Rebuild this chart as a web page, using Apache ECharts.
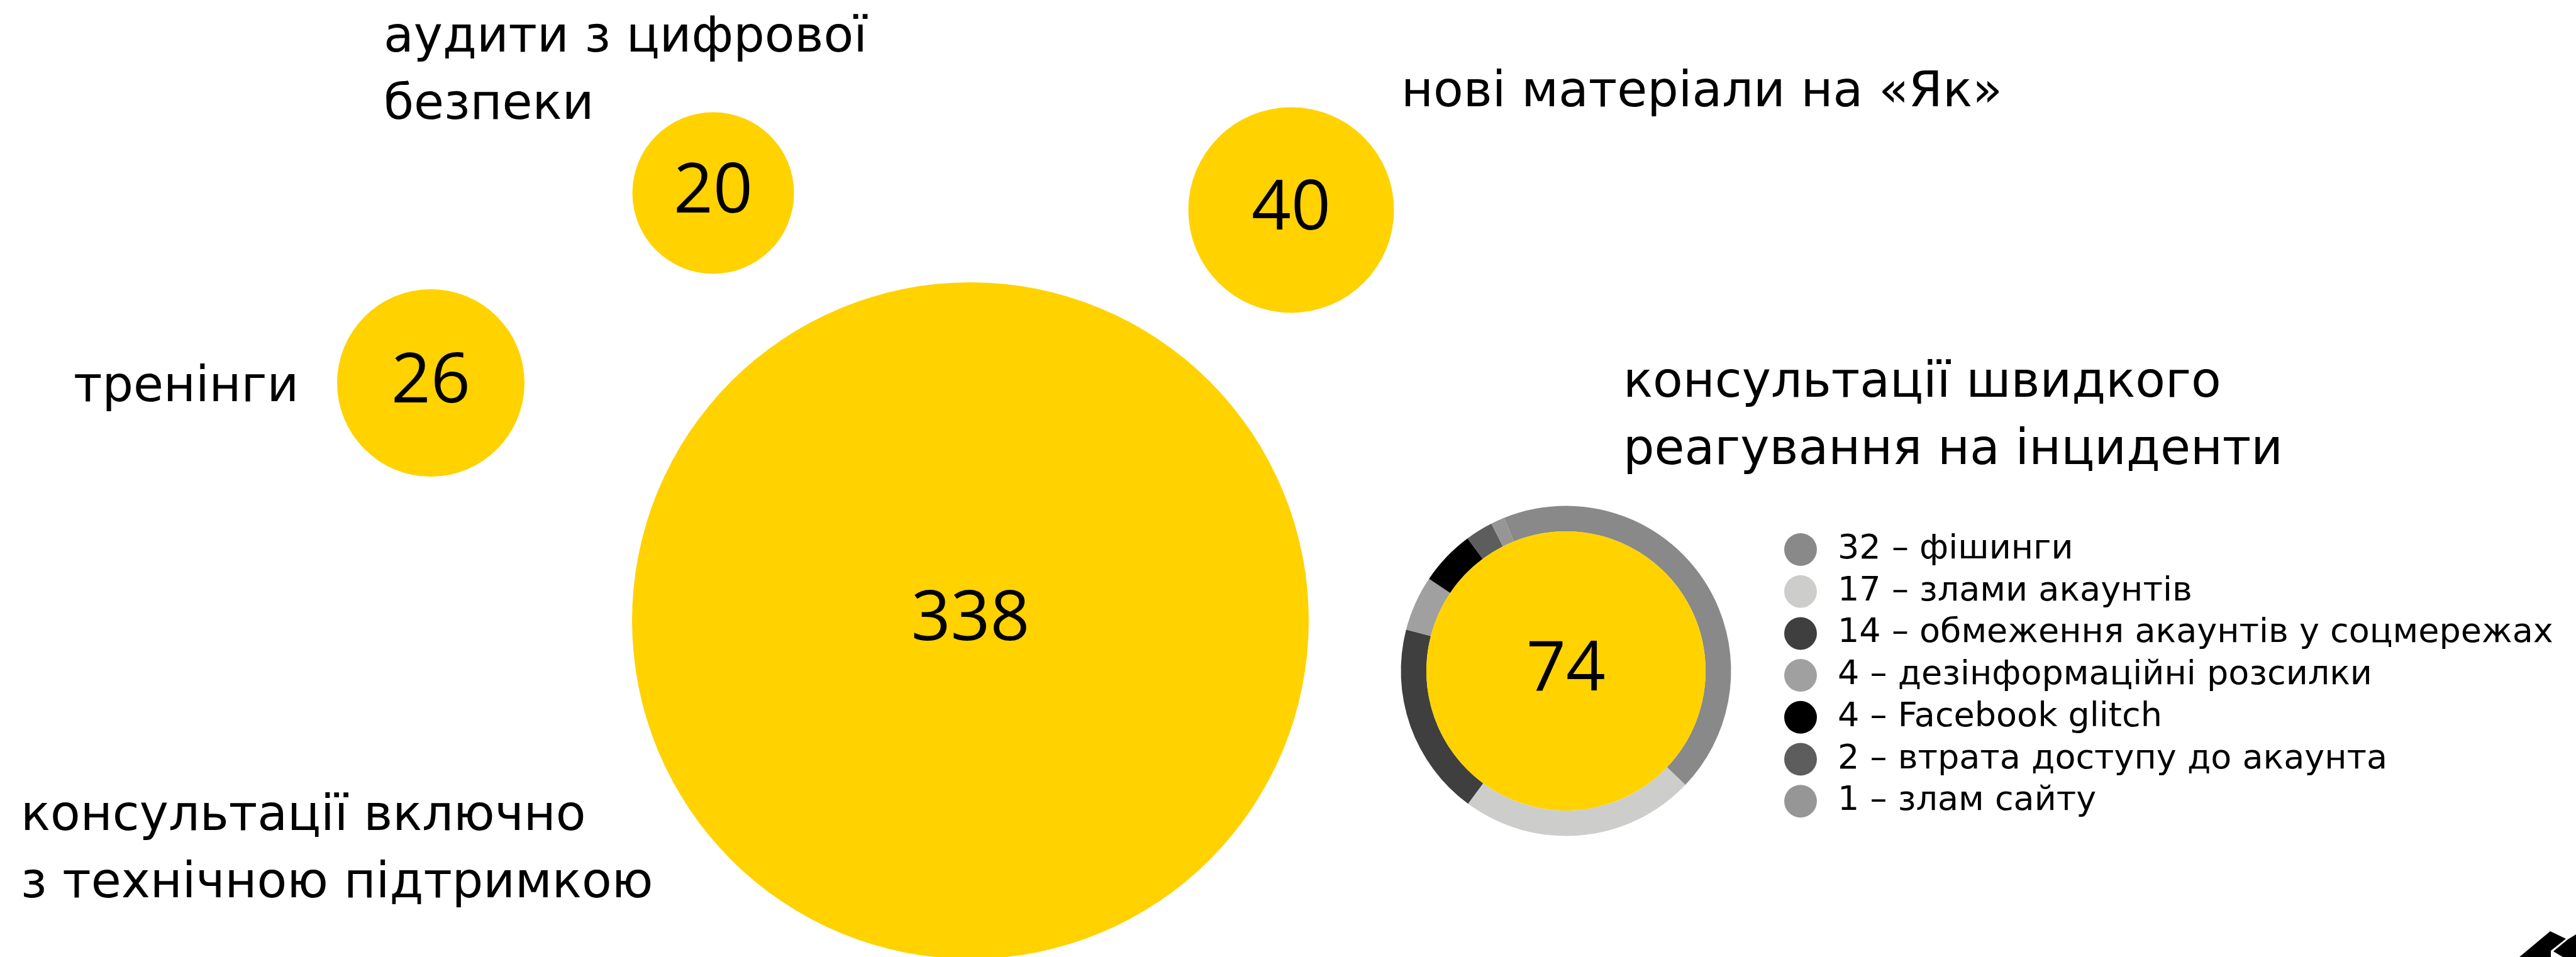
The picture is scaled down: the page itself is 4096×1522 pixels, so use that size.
<!DOCTYPE html>
<html>
<head>
<meta charset="utf-8">
<script src="https://cdn.jsdelivr.net/npm/echarts@6/dist/echarts.min.js"></script>
<style>
  html, body { margin: 0; padding: 0; background: #fff; }
  #chart { width: 4096px; height: 1522px; }
</style>
</head>
<body>
<div id="chart"></div>
<script>
// Activity totals (one bubble each)
const activities = [
  'консультації включно\nз технічною підтримкою',
  'тренінги',
  'аудити з цифрової\nбезпеки',
  'нові матеріали на «Як»',
  'консультації швидкого\nреагування на інциденти'
];
const activityValues = [338, 26, 20, 40, 74];

// Breakdown of the rapid-response consultations (ring around the 74 bubble)
const incidentTypes = [
  'фішинги',
  'злами акаунтів',
  'обмеження акаунтів у соцмережах',
  'дезінформаційні розсилки',
  'Facebook glitch',
  'втрата доступу до акаунта',
  'злам сайту'
];
const incidentValues = [32, 17, 14, 4, 4, 2, 1];
const incidentColors = ['#898989', '#cdcdcc', '#3f3f3f', '#a0a0a0', '#000000', '#5d5d5d', '#969696'];

// Slide layout (window pixels): bubble centre + diameter, caption top-left
const bubbleLayout = [
  { x: 1543, y: 987, d: 1076 },
  { x: 685, y: 609, d: 298 },
  { x: 1134, y: 307, d: 257 },
  { x: 2053, y: 334, d: 327 },
  { x: 2490, y: 1067, d: 444 }
];
const captionLayout = [
  { x: 33, y: 1246 },
  { x: 117, y: 564 },
  { x: 610, y: 8 },
  { x: 2228, y: 95 },
  { x: 2581, y: 557 }
];

const YELLOW = '#FFD200';
const TEXT_FONT = 'DejaVu Sans';
const NUM_FONT = 'Open Sans';
const ringCenter = [bubbleLayout[4].x, bubbleLayout[4].y];

const chart = echarts.init(document.getElementById('chart'));

const option = {
  backgroundColor: '#fff',
  animation: false,
  grid: { left: 0, right: 0, top: 0, bottom: 0 },
  xAxis: { type: 'value', min: 0, max: 4096, show: false },
  yAxis: { type: 'value', min: 0, max: 1522, inverse: true, show: false },
  legend: {
    orient: 'vertical',
    left: 2832,
    top: 842,
    icon: 'circle',
    itemWidth: 52,
    itemHeight: 52,
    itemGap: 12.7,
    selectedMode: false,
    data: incidentTypes,
    formatter: name => incidentValues[incidentTypes.indexOf(name)] + ' – ' + name,
    textStyle: {
      fontFamily: TEXT_FONT,
      fontSize: 54,
      lineHeight: 52,
      color: '#000',
      padding: [0, 0, 0, 28]
    }
  },
  graphic: captionLayout.map((c, i) => ({
    type: 'text',
    x: c.x,
    y: c.y,
    silent: true,
    style: {
      text: activities[i],
      fontFamily: TEXT_FONT,
      fontSize: 78,
      lineHeight: 107,
      fill: '#000',
      align: 'left',
      verticalAlign: 'top'
    }
  })).concat([
    // corner logo fragment
    {
      type: 'polygon',
      silent: true,
      shape: { points: [[4006, 1522], [4055, 1481], [4080, 1493], [4056, 1512], [4056, 1522]] },
      style: { fill: '#000' }
    },
    {
      type: 'polygon',
      silent: true,
      shape: { points: [[4096, 1486], [4096, 1522], [4075, 1522], [4060, 1513], [4083, 1494]] },
      style: { fill: '#000' }
    }
  ]),
  series: [
    {
      type: 'scatter',
      symbol: 'circle',
      itemStyle: { color: YELLOW, opacity: 1 },
      data: activityValues.map((v, i) => ({
        value: [bubbleLayout[i].x, bubbleLayout[i].y, v],
        symbolSize: bubbleLayout[i].d
      })),
      label: {
        show: true,
        position: 'inside',
        formatter: p => p.value[2],
        fontFamily: NUM_FONT,
        fontSize: 110,
        color: '#000'
      },
      emphasis: { disabled: true },
      z: 2
    },
    {
      type: 'pie',
      center: ringCenter,
      radius: [222, 262.5],
      startAngle: 112,
      clockwise: true,
      avoidLabelOverlap: false,
      label: { show: false },
      labelLine: { show: false },
      emphasis: { disabled: true },
      itemStyle: { borderWidth: 0 },
      data: incidentTypes.map((n, i) => ({
        name: n,
        value: incidentValues[i],
        itemStyle: { color: incidentColors[i] }
      })),
      z: 1
    }
  ]
};

chart.setOption(option);
</script>
</body>
</html>
